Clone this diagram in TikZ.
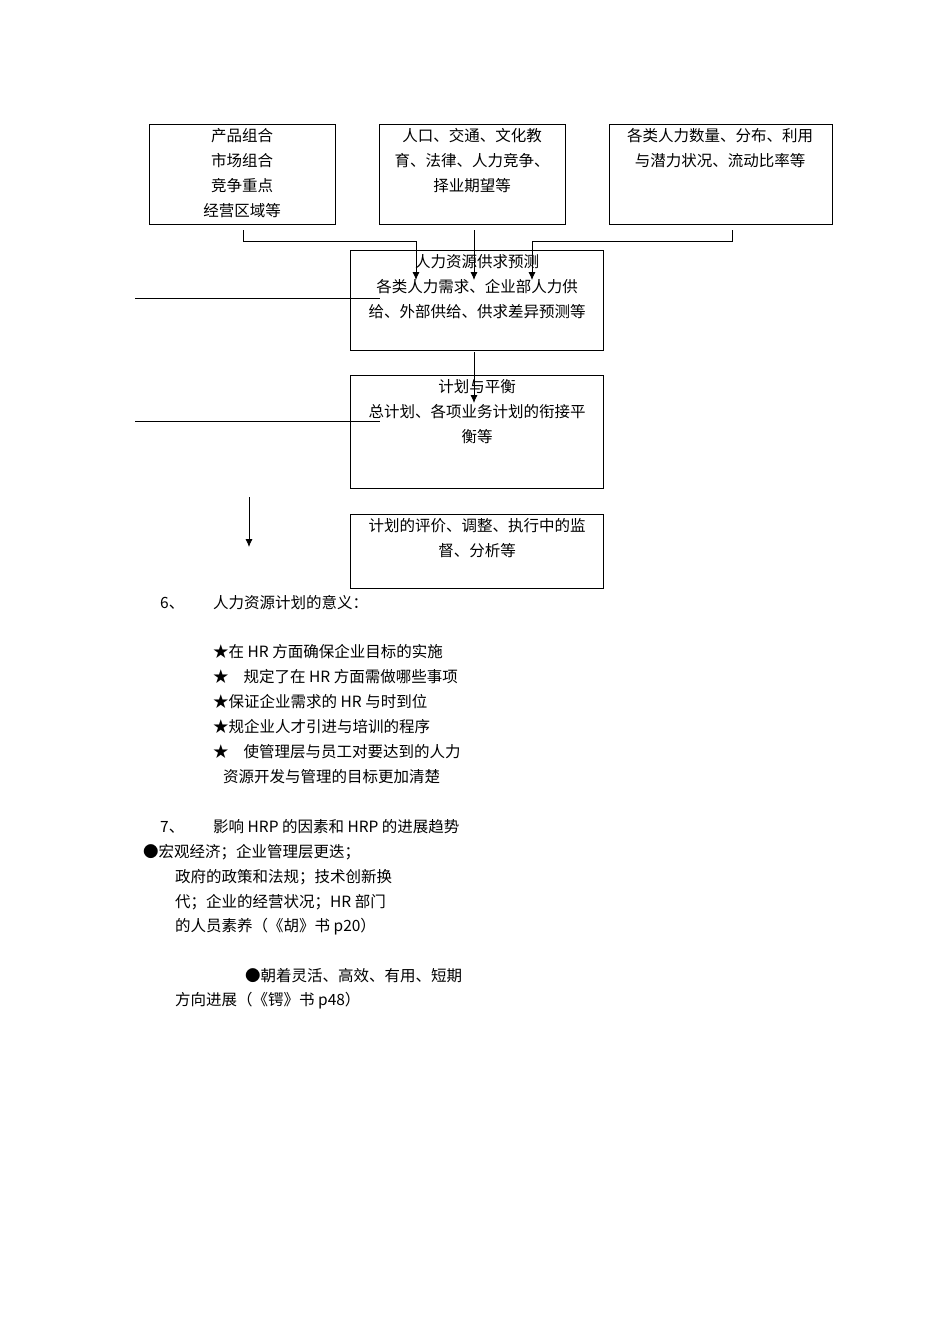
\documentclass[tikz,border=0pt]{standalone}
\usepackage{fontspec}
\setmainfont{Noto Sans CJK SC}
\usetikzlibrary{arrows.meta}
\begin{document}
\begin{tikzpicture}[x=1pt,y=-1pt,
 bx/.style={draw,thick,inner sep=0pt},
 t/.style={anchor=west,inner sep=0pt,font=\fontsize{15.5}{25}\selectfont},
 ct/.style={align=center,anchor=north,inner sep=0pt,font=\fontsize{15.5}{25}\selectfont},
 ar/.style={-{Latex[length=8pt,width=7pt]}}]
\useasboundingbox (0,0) rectangle (950,1344);
\draw[bx] (149,124) rectangle (335,224); \node[ct] (b1) at (242,128) {产品组合\\市场组合\\竞争重点\\经营区域等};
\draw[bx] (379,124) rectangle (565,224); \node[ct] (b2) at (472,128) {人口、交通、文化教\\育、法律、人力竞争、\\择业期望等};
\draw[bx] (609,124) rectangle (832,224); \node[ct] (b3) at (720,128) {各类人力数量、分布、利用\\与潜力状况、流动比率等};
\draw[bx] (350,250) rectangle (603,350); \node[ct] (b4) at (477,254) {人力资源供求预测\\各类人力需求、企业部人力供\\给、外部供给、供求差异预测等};
\draw[bx] (350,375) rectangle (603,488); \node[ct] (b5) at (477,379) {计划与平衡\\总计划、各项业务计划的衔接平\\衡等};
\draw[bx] (350,514) rectangle (603,588); \node[ct] (b6) at (477,518) {计划的评价、调整、执行中的监\\督、分析等};
\coordinate (c1) at (243,230); \coordinate (c2) at (474,230); \coordinate (c3) at (732,230);
\coordinate (e1) at (416,280); \coordinate (e2) at (474,280); \coordinate (e3) at (532,280);
\draw[thick,ar] (c1) |- (416,241) -- (e1);
\draw[thick,ar] (c2) -- (e2);
\draw[thick,ar] (c3) |- (532,241) -- (e3);
\coordinate (d1) at (474,352); \coordinate (d2) at (474,403);
\draw[thick,ar] (d1) -- (d2);
\coordinate (l1) at (135,298); \coordinate (l2) at (380,298);
\coordinate (l3) at (135,421); \coordinate (l4) at (380,421);
\draw[thick] (l1) -- (l2); \draw[thick] (l3) -- (l4);
\coordinate (a1) at (249,497); \coordinate (a2) at (249,547);
\draw[thick,ar] (a1) -- (a2);
\node[t] (n6) at (160,603) {6、};
\node[t] (n6t) at (213,603) {人力资源计划的意义：};
\node[t] (s1) at (213,652) {★在 HR 方面确保企业目标的实施};
\node[t] (s2) at (213,677) {★\hspace{15pt}规定了在 HR 方面需做哪些事项};
\node[t] (s3) at (213,702) {★保证企业需求的 HR 与时到位};
\node[t] (s4) at (213,727) {★规企业人才引进与培训的程序};
\node[t] (s5) at (213,752) {★\hspace{15pt}使管理层与员工对要达到的人力};
\node[t] (s6) at (223,777) {资源开发与管理的目标更加清楚};
\node[t] (n7) at (160,827) {7、};
\node[t] (n7t) at (213,827) {影响 HRP 的因素和 HRP 的进展趋势};
\node[t] (p1) at (143,852) {●宏观经济；企业管理层更迭；};
\node[t] (p2) at (175,877) {政府的政策和法规；技术创新换};
\node[t] (p3) at (175,902) {代；企业的经营状况；HR 部门};
\node[t] (p4) at (175,927) {的人员素养（《胡》书 p20）};
\node[t] (q1) at (245,976) {●朝着灵活、高效、有用、短期};
\node[t] (q2) at (175,1001) {方向进展（《锷》书 p48）};
\end{tikzpicture}
\end{document}
